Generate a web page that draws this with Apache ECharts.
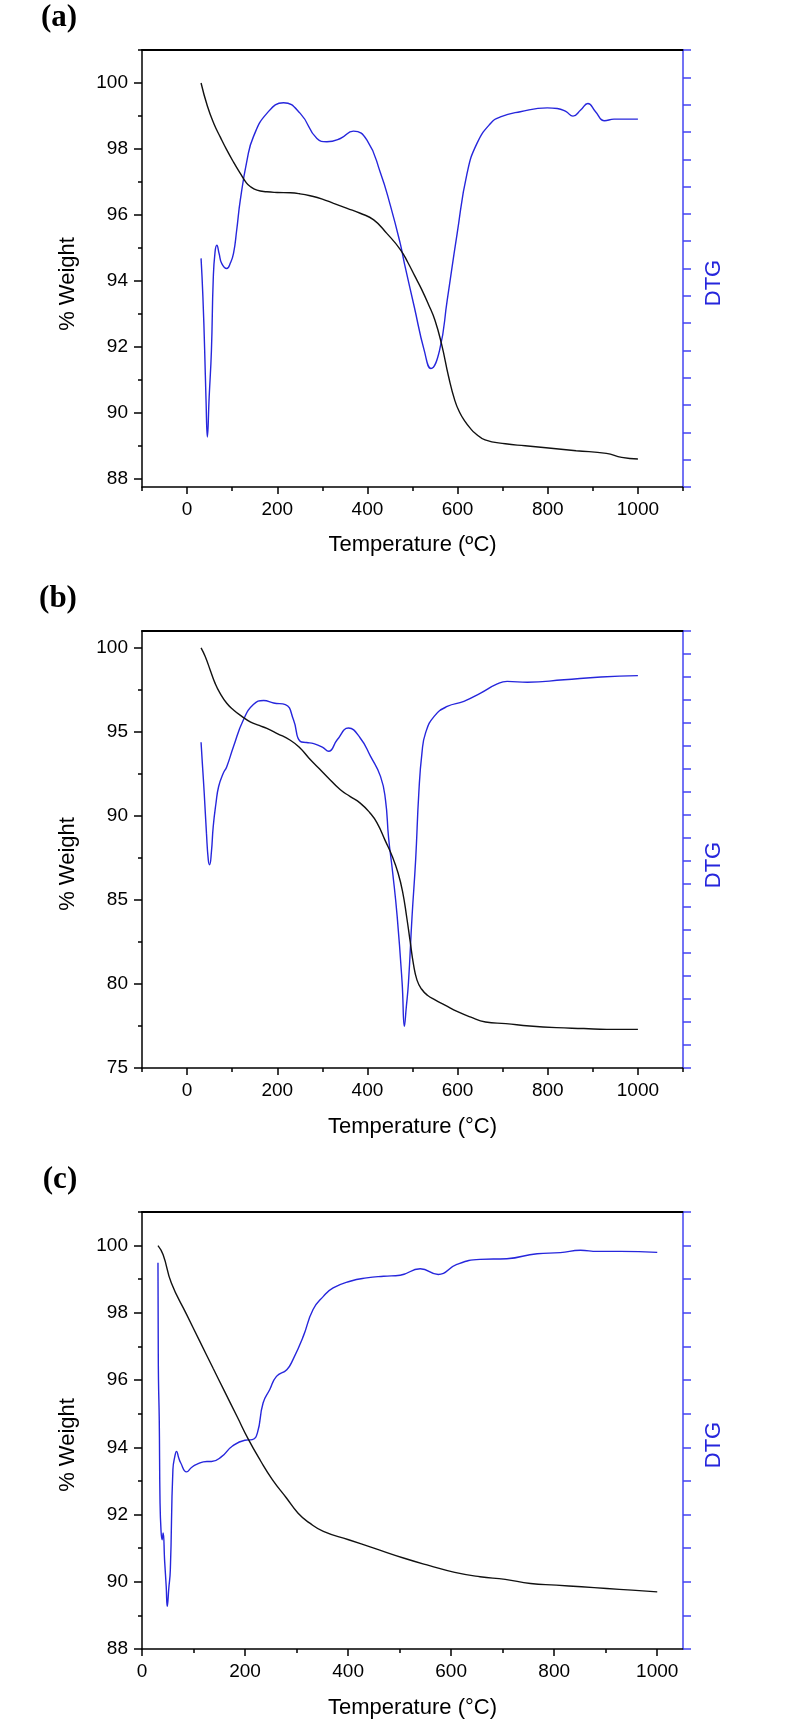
<!DOCTYPE html>
<html>
<head>
<meta charset="utf-8">
<script src="https://cdn.jsdelivr.net/npm/echarts@6/dist/echarts.min.js"></script>
<style>
html, body { margin: 0; padding: 0; background: #fff; }
#chart { width: 792px; height: 1731px; }
</style>
</head>
<body>
<div id="chart"></div>
<script>
// (a) TGA / DTG
var tgaTempA = [31, 45, 59, 74, 88, 103, 118, 130, 140, 155, 177, 200, 229, 250, 273, 300, 325, 355, 384, 414, 443, 473, 490, 505, 520, 535, 550, 565, 580, 594, 605, 616, 627, 639, 661, 706, 750, 796, 863, 930, 964, 1000];
var weightA = [100, 99.3, 98.78, 98.35, 97.97, 97.6, 97.26, 97.0, 96.86, 96.75, 96.7, 96.68, 96.67, 96.64, 96.58, 96.48, 96.35, 96.2, 96.05, 95.85, 95.44, 94.95, 94.55, 94.15, 93.75, 93.3, 92.8, 92.05, 91.1, 90.37, 90.0, 89.75, 89.55, 89.38, 89.18, 89.06, 89.0, 88.94, 88.85, 88.77, 88.65, 88.6];
var dtgTempA = [31, 35, 39, 42, 45, 49, 54, 58, 62, 66, 71, 77, 88, 96, 103, 110, 118, 133, 147, 177, 214, 251, 288, 310, 340, 369, 399, 429, 451, 473, 482, 504, 526, 541, 560, 577, 599, 621, 643, 673, 695, 739, 799, 821, 840, 856, 873, 889, 906, 926, 947, 1000];
var dtgA = [8.37, 7.0, 5.0, 3.2, 1.83, 3.3, 5.0, 7.6, 8.6, 8.85, 8.55, 8.18, 8.0, 8.2, 8.55, 9.4, 10.5, 11.97, 12.82, 13.68, 14.07, 13.68, 12.76, 12.64, 12.76, 13.03, 12.7, 11.5, 10.3, 8.9, 8.19, 6.59, 5.0, 4.34, 5.0, 6.84, 9.28, 11.48, 12.58, 13.31, 13.55, 13.74, 13.88, 13.86, 13.75, 13.58, 13.8, 14.04, 13.74, 13.41, 13.47, 13.47];

// (b) TGA / DTG
var tgaTempB = [31, 40, 51, 62, 73, 88, 103, 120, 140, 160, 177, 200, 229, 250, 270, 290, 310, 340, 362, 384, 405, 421, 440, 455, 468, 478, 487, 495, 502, 510, 520, 533, 550, 572, 600, 628, 662, 707, 760, 819, 880, 931, 1000];
var weightB = [100, 99.5, 98.7, 97.9, 97.3, 96.7, 96.3, 95.95, 95.6, 95.38, 95.2, 94.9, 94.5, 94.05, 93.45, 92.9, 92.35, 91.55, 91.15, 90.76, 90.2, 89.6, 88.5, 87.6, 86.6, 85.5, 84.0, 82.5, 81.2, 80.23, 79.7, 79.33, 79.05, 78.74, 78.35, 78.04, 77.74, 77.64, 77.5, 77.4, 77.35, 77.3, 77.3];
var dtgTempB = [31, 34, 38, 43, 47, 50, 54, 58, 64, 70, 80, 88, 103, 125, 147, 170, 192, 218, 236, 251, 265, 281, 300, 314, 333, 358, 384, 407, 429, 440, 447, 456, 466, 477, 482, 486, 491, 499, 507, 514, 521, 529, 548, 577, 614, 651, 688, 710, 755, 836, 918, 1000];
var dtgB = [14.16, 13.2, 11.96, 10.2, 9.06, 8.84, 9.4, 10.5, 11.5, 12.24, 12.8, 13.1, 13.98, 15.14, 15.8, 15.98, 15.87, 15.8, 15.14, 14.2, 14.15, 14.1, 13.95, 13.77, 14.27, 14.78, 14.35, 13.55, 12.68, 11.67, 10.0, 8.5, 6.59, 3.7, 1.81, 2.6, 3.7, 6.59, 9.06, 11.96, 13.7, 14.57, 15.29, 15.72, 15.94, 16.3, 16.7, 16.81, 16.77, 16.88, 17.0, 17.06];

// (c) TGA / DTG
var tgaTempC = [31, 41, 57, 86, 112, 138, 160, 185, 206, 230, 253, 280, 303, 325, 352, 401, 450, 509, 558, 607, 656, 705, 754, 804, 853, 902, 951, 1000];
var weightC = [100, 99.73, 98.89, 97.97, 97.16, 96.35, 95.67, 94.9, 94.25, 93.6, 93.04, 92.5, 92.04, 91.75, 91.5, 91.25, 91.0, 90.7, 90.48, 90.28, 90.15, 90.07, 89.95, 89.9, 89.85, 89.8, 89.75, 89.7];
var dtgTempC = [31, 31.5, 32, 33.5, 35, 37, 39, 41, 44, 47, 49, 52, 55, 60, 64, 67, 71, 75, 86.5, 96, 106, 126, 135, 155, 175, 199.5, 214, 224, 235, 248, 261, 281, 293, 313, 332, 352, 371, 404, 436, 469, 501, 540, 575, 611, 656, 708, 767, 812, 851, 884, 929, 1000];
var dtgC = [11.49, 9.2, 8.0, 6.82, 4.35, 3.5, 3.25, 3.45, 2.6, 1.86, 1.27, 1.8, 2.36, 5.34, 5.75, 5.88, 5.7, 5.54, 5.27, 5.4, 5.49, 5.58, 5.58, 5.73, 6.03, 6.21, 6.23, 6.43, 7.32, 7.72, 8.11, 8.31, 8.61, 9.3, 10.1, 10.49, 10.74, 10.94, 11.04, 11.09, 11.12, 11.31, 11.14, 11.44, 11.59, 11.61, 11.76, 11.79, 11.86, 11.83, 11.83, 11.8];

// tick labels
var xTicksAB = [0, 200, 400, 600, 800, 1000];
var xMinorAB = [-100, 100, 300, 500, 700, 900, 1100];
var xTicksC = [0, 200, 400, 600, 800, 1000];
var xMinorC = [100, 300, 500, 700, 900];
var yTicksA = [88, 90, 92, 94, 96, 98, 100];
var yMinorA = [89, 91, 93, 95, 97, 99, 101];
var yTicksB = [75, 80, 85, 90, 95, 100];
var yMinorB = [77.5, 82.5, 87.5, 92.5, 97.5];
var yTicksC = [88, 90, 92, 94, 96, 98, 100];
var yMinorC = [89, 91, 93, 95, 97, 99, 101];

var FONT = '"Liberation Sans", Arial, sans-serif';
var CURVE_BLUE = '#2626dc';
var AXIS_BLUE = '#4444f2';

function zip(xs, ys){
	var out = [];
	for(var i=0; i<xs.length; i++){
		out.push([xs[i], ys[i]]);
	}
	return out;
}
function plain(v){ return String(v); }

var panels = [
	{top:50, xMin:-100, xMax:1100, xTicks:xTicksAB, xMinor:xMinorAB, yMin:87.75, yMax:101, yTicks:yTicksA, yMinor:yMinorA, dtgMax:16,
		tga:zip(tgaTempA, weightA), dtg:zip(dtgTempA, dtgA)},
	{top:631, xMin:-100, xMax:1100, xTicks:xTicksAB, xMinor:xMinorAB, yMin:75, yMax:101, yTicks:yTicksB, yMinor:yMinorB, dtgMax:19,
		tga:zip(tgaTempB, weightB), dtg:zip(dtgTempB, dtgB)},
	{top:1212, xMin:0, xMax:1050, xTicks:xTicksC, xMinor:xMinorC, yMin:88, yMax:101, yTicks:yTicksC, yMinor:yMinorC, dtgMax:13,
		tga:zip(tgaTempC, weightC), dtg:zip(dtgTempC, dtgC)}
];

var grid = [], xAxis = [], yAxis = [], series = [];
var blackLine = {color:'#000', width:1.5};

panels.forEach(function(p, i){
	grid.push({left:142, top:p.top, width:541, height:437, outerBoundsMode:'none', containLabel:false});

	xAxis.push({
		gridIndex:i, type:'value', position:'bottom', min:p.xMin, max:p.xMax,
		axisLine:{show:true, onZero:false, lineStyle:blackLine},
		axisTick:{show:true, length:7, customValues:p.xTicks, lineStyle:blackLine},
		axisLabel:{show:true, customValues:p.xTicks, formatter:plain, margin:13, color:'#000', fontSize:19, fontFamily:FONT},
		splitLine:{show:false}
	});
	xAxis.push({
		gridIndex:i, type:'value', position:'bottom', min:p.xMin, max:p.xMax,
		axisLine:{show:false, onZero:false},
		axisTick:{show:true, length:4, customValues:p.xMinor, lineStyle:blackLine},
		axisLabel:{show:false},
		splitLine:{show:false}
	});
	xAxis.push({
		gridIndex:i, type:'value', position:'top', min:p.xMin, max:p.xMax,
		axisLine:{show:true, onZero:false, lineStyle:{color:'#000', width:2}},
		axisTick:{show:false}, axisLabel:{show:false}, splitLine:{show:false}
	});

	yAxis.push({
		gridIndex:i, type:'value', position:'left', min:p.yMin, max:p.yMax,
		axisLine:{show:true, onZero:false, lineStyle:blackLine},
		axisTick:{show:true, length:8, customValues:p.yTicks, lineStyle:blackLine},
		axisLabel:{show:true, customValues:p.yTicks, formatter:plain, margin:14, color:'#000', fontSize:19, fontFamily:FONT},
		splitLine:{show:false}
	});
	yAxis.push({
		gridIndex:i, type:'value', position:'left', min:p.yMin, max:p.yMax,
		axisLine:{show:false, onZero:false},
		axisTick:{show:true, length:4, customValues:p.yMinor, lineStyle:blackLine},
		axisLabel:{show:false},
		splitLine:{show:false}
	});
	yAxis.push({
		gridIndex:i, type:'value', position:'right', min:0, max:p.dtgMax, interval:1,
		axisLine:{show:true, onZero:false, lineStyle:{color:AXIS_BLUE, width:1.5}},
		axisTick:{show:true, length:8, lineStyle:{color:AXIS_BLUE, width:1.5}},
		axisLabel:{show:false},
		splitLine:{show:false}
	});

	series.push({
		type:'line', xAxisIndex:3*i, yAxisIndex:3*i, data:p.tga,
		showSymbol:false, smooth:0.5,
		lineStyle:{color:'#111', width:1.4}, z:3
	});
	series.push({
		type:'line', xAxisIndex:3*i, yAxisIndex:3*i+2, data:p.dtg,
		showSymbol:false, smooth:0.5,
		lineStyle:{color:CURVE_BLUE, width:1.4}, z:2
	});
});

function label(text, x, y, opts){
	opts = opts || {};
	return {
		type:'text', x:x, y:y, rotation:opts.rotate ? Math.PI/2 : 0,
		style:{
			text:text, fill:opts.color || '#000',
			font:opts.font || ('22px ' + FONT),
			align:'center', verticalAlign:'middle'
		}
	};
}

var letterFont = 'bold 31px "Liberation Serif", "Times New Roman", serif';
var graphic = [
	label('(a)', 59, 18, {font:letterFont}),
	label('(b)', 58, 599, {font:letterFont}),
	label('(c)', 60, 1180, {font:letterFont}),
	label('Temperature (ºC)', 412.5, 545),
	label('Temperature (°C)', 412.5, 1127),
	label('Temperature (°C)', 412.5, 1708),
	label('% Weight', 67.5, 284, {rotate:true}),
	label('% Weight', 67.5, 864, {rotate:true}),
	label('% Weight', 67.5, 1445, {rotate:true}),
	label('DTG', 714, 283, {rotate:true, color:CURVE_BLUE}),
	label('DTG', 714, 865, {rotate:true, color:CURVE_BLUE}),
	label('DTG', 714, 1445, {rotate:true, color:CURVE_BLUE})
];

var chart = echarts.init(document.getElementById('chart'), null, {renderer:'canvas'});
chart.setOption({
	animation:false,
	backgroundColor:'#fff',
	grid:grid,
	xAxis:xAxis,
	yAxis:yAxis,
	series:series,
	graphic:graphic
});
</script>
</body>
</html>
